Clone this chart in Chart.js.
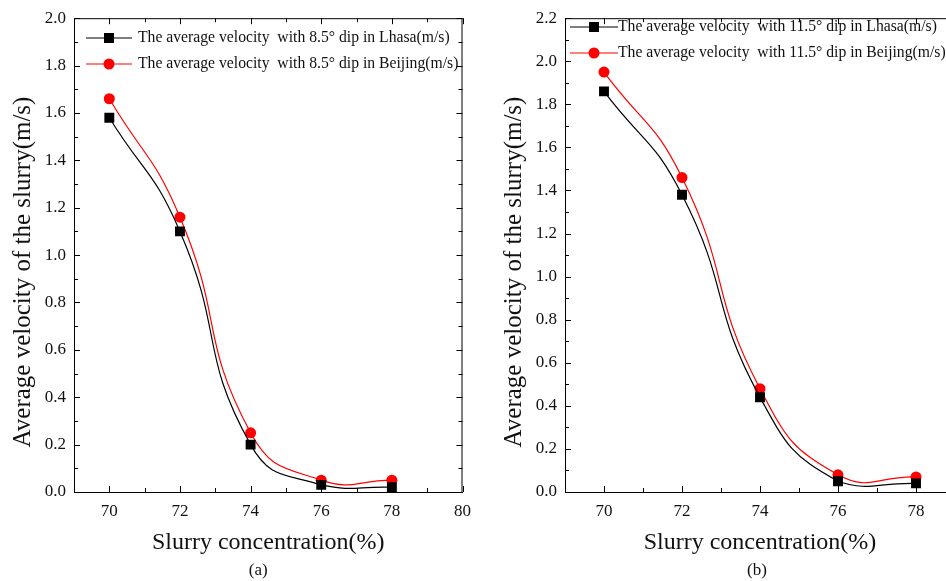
<!DOCTYPE html>
<html>
<head>
<meta charset="utf-8">
<script src="https://cdn.jsdelivr.net/npm/chart.js@4.4.1/dist/chart.umd.min.js"></script>
<style>
html, body { margin: 0; padding: 0; width: 946px; height: 581px; overflow: hidden; background: #fff; }
.box { position: absolute; top: 0; height: 581px; }
#boxA { left: 0; width: 480px; }
#boxB { left: 480px; width: 500px; }
</style>
</head>
<body>
<div class="box" id="boxA"><canvas id="chartA" width="480" height="581"></canvas></div>
<div class="box" id="boxB"><canvas id="chartB" width="500" height="581"></canvas></div>
<script>
// data
const concentration = [70, 72, 74, 76, 78];
const lhasa85 = [1.58, 1.10, 0.20, 0.03, 0.02];
const beijing85 = [1.66, 1.16, 0.25, 0.05, 0.05];
const lhasa115 = [1.86, 1.38, 0.44, 0.05, 0.04];
const beijing115 = [1.95, 1.46, 0.48, 0.08, 0.07];

const xTicksA = [70, 72, 74, 76, 78, 80];
const xTicksB = [70, 72, 74, 76, 78];
const yTicksA = [0, 0.2, 0.4, 0.6, 0.8, 1.0, 1.2, 1.4, 1.6, 1.8, 2.0];
const yTicksB = [0, 0.2, 0.4, 0.6, 0.8, 1.0, 1.2, 1.4, 1.6, 1.8, 2.0, 2.2];

const labelsA = ['The average velocity  with 8.5° dip in Lhasa(m/s)', 'The average velocity  with 8.5° dip in Beijing(m/s)'];
const labelsB = ['The average velocity  with 11.5° dip in Lhasa(m/s)', 'The average velocity  with 11.5° dip in Beijing(m/s)'];
const yTitle = 'Average velocity of the slurry(m/s)';

const FONT = "'Liberation Serif', 'Times New Roman', serif";

// frame, inward ticks on all four sides, legend inside the plot, y title, caption
const framePlugin = {
    id: 'frame',
    afterDraw(chart, args, opts) {
        const ctx = chart.ctx;
        const a = chart.chartArea;
        const xs = chart.scales.x, ys = chart.scales.y;
        ctx.save();
        ctx.strokeStyle = '#000';
        ctx.lineWidth = 1;
        ctx.beginPath();
        ctx.moveTo(a.left, a.top + 0.5); ctx.lineTo(a.right, a.top + 0.5);
        ctx.moveTo(a.right - 0.5, a.top); ctx.lineTo(a.right - 0.5, a.bottom);
        // x ticks
        for (let v = Math.ceil(xs.min); v <= xs.max; v++) {
            const px = Math.round(xs.getPixelForValue(v)) + 0.5;
            const len = (v % 2 === 0) ? 6 : 4;
            ctx.moveTo(px, a.bottom); ctx.lineTo(px, a.bottom - len);
            ctx.moveTo(px, a.top); ctx.lineTo(px, a.top + len);
        }
        // y ticks
        for (let i = 0; i * 0.1 <= ys.max + 1e-6; i++) {
            const py = Math.round(ys.getPixelForValue(i * 0.1)) + 0.5;
            const len = (i % 2 === 0) ? 6 : 4;
            ctx.moveTo(a.left, py); ctx.lineTo(a.left + len, py);
            ctx.moveTo(a.right, py); ctx.lineTo(a.right - len, py);
        }
        ctx.stroke();

        // legend
        const lg = opts.legend;
        ctx.font = '15.7px ' + FONT;
        ctx.textBaseline = 'middle';
        chart.data.datasets.forEach((ds, i) => {
            const y = lg.y + i * lg.dy;
            ctx.strokeStyle = ds.borderColor;
            ctx.lineWidth = 1.2;
            ctx.beginPath();
            ctx.moveTo(lg.x, y); ctx.lineTo(lg.x + lg.w, y);
            ctx.stroke();
            ctx.fillStyle = ds.backgroundColor;
            const mx = lg.x + lg.w / 2;
            if (ds.pointStyle === 'rect') {
                ctx.fillRect(mx - 5, y - 5, 10, 10);
            } else {
                ctx.beginPath();
                ctx.arc(mx, y, 5.5, 0, Math.PI * 2);
                ctx.fill();
            }
            ctx.fillStyle = '#111';
            ctx.textAlign = 'left';
            ctx.fillText(ds.label, lg.x + lg.w + lg.gap, y);
        });

        // y axis title
        ctx.save();
        ctx.translate(opts.titleX, opts.titleY);
        ctx.rotate(-Math.PI / 2);
        ctx.font = '25px ' + FONT;
        ctx.textAlign = 'center';
        ctx.textBaseline = 'middle';
        ctx.fillStyle = '#111';
        ctx.fillText(yTitle, 0, 0);
        ctx.restore();

        // caption
        ctx.font = '17px ' + FONT;
        ctx.textAlign = 'center';
        ctx.fillStyle = '#111';
        ctx.fillText(opts.caption, (a.left + a.right) / 2 + opts.captionShift, 571);
        ctx.restore();
    }
};

function makeDataset(label, values, color, style) {
    return {
        label: label,
        data: concentration.map((c, i) => ({ x: c, y: values[i] })),
        borderColor: color,
        backgroundColor: color,
        borderWidth: 1.2,
        tension: 0.5,
        pointStyle: style,
        pointRadius: style === 'rect' ? 7 : 5.5,
        pointBorderWidth: 0
    };
}

function makeChart(id, cfg) {
    const ctx = document.getElementById(id).getContext('2d');
    return new Chart(ctx, {
        type: 'line',
        data: {
            datasets: [
                makeDataset(cfg.labels[0], cfg.lhasa, '#000000', 'rect'),
                makeDataset(cfg.labels[1], cfg.beijing, '#ff0000', 'circle')
            ]
        },
        options: {
            responsive: false,
            animation: false,
            layout: { padding: cfg.padding },
            plugins: {
                legend: { display: false },
                tooltip: { enabled: false },
                frame: {
                    legend: cfg.legend, caption: cfg.caption, captionShift: cfg.captionShift,
                    titleX: cfg.titleX, titleY: 272
                }
            },
            scales: {
                x: {
                    type: 'linear',
                    min: 69,
                    max: cfg.xMax,
                    afterBuildTicks: s => { s.ticks = cfg.xTicks.map(v => ({ value: v })); },
                    afterFit: s => { s.height = 65; },
                    grid: { display: false, drawTicks: false },
                    border: { display: true, color: '#000', width: 1 },
                    ticks: { font: { family: FONT, size: 17 }, color: '#111', padding: 9 },
                    title: {
                        display: true,
                        text: 'Slurry concentration(%)',
                        font: { family: FONT, size: 24 },
                        color: '#111',
                        padding: { top: 0, bottom: 0 }
                    }
                },
                y: {
                    min: 0,
                    max: cfg.yMax,
                    afterBuildTicks: s => { s.ticks = cfg.yTicks.map(v => ({ value: v })); },
                    afterFit: s => { s.width = cfg.yWidth; },
                    grid: { display: false, drawTicks: false },
                    border: { display: true, color: '#000', width: 1 },
                    ticks: {
                        font: { family: FONT, size: 17 },
                        color: '#111',
                        padding: 8,
                        callback: v => v.toFixed(1)
                    },
                    title: { display: false }
                }
            }
        },
        plugins: [framePlugin]
    });
}

makeChart('chartA', {
    labels: labelsA, lhasa: lhasa85, beijing: beijing85,
    xMax: 80, yMax: 2.0, xTicks: xTicksA, yTicks: yTicksA,
    yWidth: 74,
    padding: { left: 0, top: 16, right: 16, bottom: 24 },
    legend: { x: 86, y: 38, dy: 26, w: 46, gap: 6 },
    titleX: 23,
    caption: '(a)', captionShift: -10
});

makeChart('chartB', {
    labels: labelsB, lhasa: lhasa115, beijing: beijing115,
    xMax: 79, yMax: 2.2, xTicks: xTicksB, yTicks: yTicksB,
    yWidth: 75,
    padding: { left: 10, top: 16, right: 25, bottom: 24 },
    legend: { x: 90, y: 27, dy: 26, w: 48, gap: 0 },
    titleX: 34,
    caption: '(b)', captionShift: -3
});
</script>
</body>
</html>
